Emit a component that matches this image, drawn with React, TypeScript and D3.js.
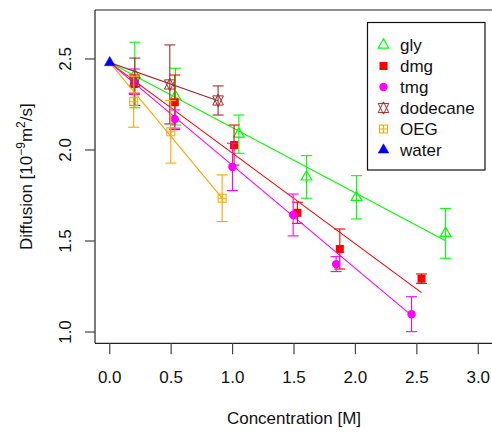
import React from "react";
import * as d3 from "d3";

// ---- data ----
const seriesNames = ["gly", "dmg", "tmg", "dodecane", "OEG", "water"];
const seriesColors = ["#00FF00", "#FF0000", "#FF00FF", "#A52A2A", "#FFA500", "#0000FF"];
const seriesShapes = ["triOpen", "square", "circle", "star", "sqPlus", "triFill"];

const glyX = [0.204, 0.535, 1.051, 1.602, 2.009, 2.734];
const glyY = [2.412, 2.293, 2.087, 1.852, 1.74, 1.542];
const glyErr = [0.18, 0.156, 0.105, 0.117, 0.119, 0.137];

const dmgX = [0.2, 0.529, 1.012, 1.528, 1.873, 2.538];
const dmgY = [2.362, 2.262, 2.027, 1.655, 1.456, 1.293];
const dmgErr = [0.05, 0.15, 0.11, 0.058, 0.11, 0.026];

const tmgX = [0.2, 0.529, 0.999, 1.493, 1.843, 2.457];
const tmgY = [2.375, 2.17, 1.907, 1.643, 1.373, 1.098];
const tmgErr = [0.07, 0.05, 0.13, 0.115, 0.041, 0.096];

const dodecaneX = [0.204, 0.489, 0.882];
const dodecaneY = [2.375, 2.36, 2.272];
const dodecaneErr = [0.13, 0.217, 0.08];

const oegX = [0.195, 0.497, 0.915];
const oegY = [2.265, 2.1, 1.735];
const oegErr = [0.14, 0.172, 0.128];

const waterX = [0];
const waterY = [2.48];
const waterErr = [0];

// fitted lines (intercept at water value, slopes)
const fitIntercept = 2.48;
const fitSlopes = [-0.358, -0.498, -0.565, -0.237, -0.814, 0];

const xTicks = [0, 0.5, 1.0, 1.5, 2.0, 2.5, 3.0];
const yTicks = [1.0, 1.5, 2.0, 2.5];

const allX = [glyX, dmgX, tmgX, dodecaneX, oegX, waterX];
const allY = [glyY, dmgY, tmgY, dodecaneY, oegY, waterY];
const allErr = [glyErr, dmgErr, tmgErr, dodecaneErr, oegErr, waterErr];

const W = 492;
const H = 434;
const FONT = "'Liberation Sans', Arial, Helvetica, sans-serif";

const x = d3.scaleLinear().domain([-0.12, 3.12]).range([95, 493]);
const y = d3.scaleLinear().domain([0.938, 2.769]).range([343.3, 10]);

const S = 3.94; // symbol size unit

function Symbol({ shape, cx, cy, color }: { shape: string; cx: number; cy: number; color: string }) {
  const r = 1.555 * S;
  const yc = 0.7776 * S;
  const xc = 1.3468 * S;
  switch (shape) {
    case "triOpen":
    case "triFill": {
      const pts = `${cx},${cy - r} ${cx + xc},${cy + yc} ${cx - xc},${cy + yc}`;
      return shape === "triOpen" ? (
        <polygon points={pts} fill="none" stroke={color} strokeWidth={1.2} />
      ) : (
        <polygon points={pts} fill={color} stroke={color} strokeWidth={0.5} />
      );
    }
    case "square":
      return <rect x={cx - 4} y={cy - 4} width={8} height={8} fill={color} />;
    case "circle":
      return <circle cx={cx} cy={cy} r={4.2} fill={color} />;
    case "star": {
      const yy = 0.5 * (yc + r);
      const p1 = `${cx},${cy - r} ${cx + xc},${cy + yy} ${cx - xc},${cy + yy}`;
      const p2 = `${cx},${cy + r} ${cx + xc},${cy - yy} ${cx - xc},${cy - yy}`;
      return (
        <g fill="none" stroke={color} strokeWidth={1}>
          <polygon points={p1} />
          <polygon points={p2} />
        </g>
      );
    }
    case "sqPlus":
      return (
        <g fill="none" stroke={color} strokeWidth={1}>
          <rect x={cx - 4} y={cy - 4} width={8} height={8} />
          <line x1={cx - 4} x2={cx + 4} y1={cy} y2={cy} />
          <line x1={cx} x2={cx} y1={cy - 4} y2={cy + 4} />
        </g>
      );
    default:
      return null;
  }
}

export default function App() {
  const left = 95;
  const top = 10;
  const bottom = 343.3;
  const right = 493;

  const legX = 367.5;
  const legY = 22.5;
  const legW = 117.5;
  const legH = 147.5;
  const legRow0 = 45;
  const legStep = 21;

  return (
    <svg
      width={W}
      height={H}
      style={{ position: "absolute", left: 0, top: 0, background: "#fff" }}
      fontFamily={FONT}
    >
      <rect x={0} y={0} width={W} height={H} fill="#fff" />

      {/* series */}
      {seriesNames.map((name, si) => {
        const xs = allX[si];
        const ys = allY[si];
        const es = allErr[si];
        const col = seriesColors[si];
        const xMax = d3.max(xs) as number;
        return (
          <g key={name}>
            {si < 5 && (
              <line
                x1={x(0)}
                y1={y(fitIntercept)}
                x2={x(xMax)}
                y2={y(fitIntercept + fitSlopes[si] * xMax)}
                stroke={col}
                strokeWidth={1.1}
              />
            )}
            {xs.map((xv, i) =>
              es[i] > 0 ? (
                <g key={i} stroke={col} strokeWidth={1.1}>
                  <line x1={x(xv)} x2={x(xv)} y1={y(ys[i] - es[i])} y2={y(ys[i] + es[i])} />
                  <line x1={x(xv) - 5.5} x2={x(xv) + 5.5} y1={y(ys[i] - es[i])} y2={y(ys[i] - es[i])} />
                  <line x1={x(xv) - 5.5} x2={x(xv) + 5.5} y1={y(ys[i] + es[i])} y2={y(ys[i] + es[i])} />
                </g>
              ) : null
            )}
            {xs.map((xv, i) => (
              <Symbol key={"p" + i} shape={seriesShapes[si]} cx={x(xv)} cy={y(ys[i])} color={col} />
            ))}
          </g>
        );
      })}

      {/* box */}
      <g stroke="#222" strokeWidth={1.2} fill="none">
        <line x1={left} x2={right} y1={top} y2={top} />
        <line x1={left} x2={right} y1={bottom} y2={bottom} />
        <line x1={left} x2={left} y1={top} y2={bottom} />
        <line x1={right} x2={right} y1={top} y2={bottom} />
      </g>

      {/* x axis */}
      {xTicks.map((t) => (
        <g key={"xt" + t}>
          <line x1={x(t)} x2={x(t)} y1={bottom} y2={bottom + 11} stroke="#444" strokeWidth={1.2} />
          <text x={x(t)} y={383} textAnchor="middle" fontSize={17} fill="#111">
            {d3.format(".1f")(t)}
          </text>
        </g>
      ))}
      <text x={(left + right) / 2} y={424} textAnchor="middle" fontSize={17} fill="#111">
        Concentration [M]
      </text>

      {/* y axis */}
      {yTicks.map((t) => (
        <g key={"yt" + t}>
          <line x1={left - 10} x2={left} y1={y(t)} y2={y(t)} stroke="#444" strokeWidth={1.2} />
          <text
            transform={`translate(71,${y(t)}) rotate(-90)`}
            textAnchor="middle"
            fontSize={17}
            fill="#111"
          >
            {d3.format(".1f")(t)}
          </text>
        </g>
      ))}
      <text
        transform={`translate(32,${(top + bottom) / 2}) rotate(-90)`}
        textAnchor="middle"
        fontSize={17}
        fill="#111"
      >
        Diffusion [10
        <tspan dy={-7} fontSize={12}>
          −9
        </tspan>
        <tspan dy={7}>m</tspan>
        <tspan dy={-7} fontSize={12}>
          2
        </tspan>
        <tspan dy={7}>/s]</tspan>
      </text>

      {/* legend */}
      <rect x={legX} y={legY} width={legW} height={legH} fill="#fff" stroke="#111" strokeWidth={1.2} />
      {seriesNames.map((name, si) => (
        <g key={"leg" + name}>
          <Symbol shape={seriesShapes[si]} cx={383.5} cy={legRow0 + si * legStep} color={seriesColors[si]} />
          <text x={400} y={legRow0 + si * legStep + 6} fontSize={17} fill="#111">
            {name}
          </text>
        </g>
      ))}
    </svg>
  );
}
